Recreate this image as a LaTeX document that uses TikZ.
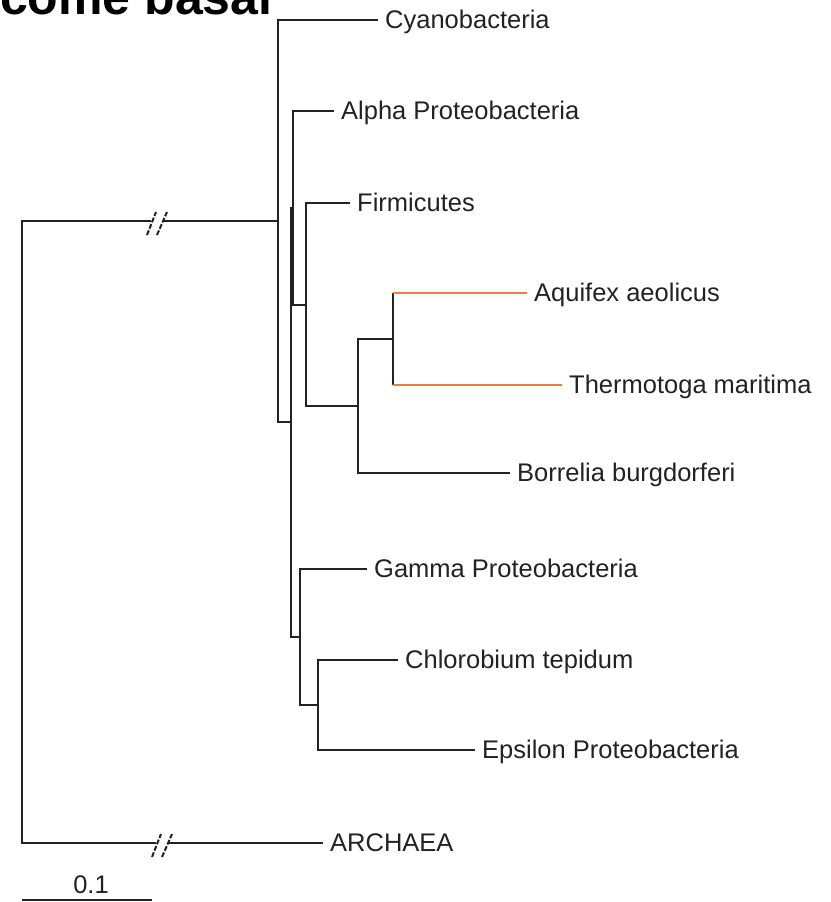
\documentclass[tikz,border=0pt]{standalone}
\usepackage{fontspec}
\setmainfont{Liberation Sans}
\definecolor{hotbr}{RGB}{240,125,60}
\definecolor{treeink}{RGB}{34,34,34}
\begin{document}
\begin{tikzpicture}[x=1pt,y=-1pt,font=\fontsize{25.5}{30}\selectfont,
 branch/.style={draw=treeink,line width=2.2pt},
 hot/.style={draw=hotbr,line width=2.8pt},
 leaf/.style={anchor=west,inner xsep=7pt,inner ysep=0pt,text height=17pt,text depth=0pt,text=treeink},
 brk/.style={draw=treeink,line width=2pt,dash pattern=on 5pt off 1.8pt}]
\clip (0,0) rectangle (830,902);
\node[anchor=base west,inner sep=0pt,font=\fontsize{50}{60}\selectfont\bfseries] (ttl) at (0,14) {come basal};
% inner nodes of the tree
\coordinate (R) at (22,531.5);
\coordinate (A) at (278,221);
\coordinate (B) at (291,422);
\coordinate (C) at (293,208);
\coordinate (D) at (306,305);
\coordinate (E) at (358,406);
\coordinate (G) at (393,339);
\coordinate (F) at (300,637);
\coordinate (H) at (318,705);
% leaves
\foreach \n/\x/\y/\lab in {cy/378/20/Cyanobacteria,al/334/111/Alpha Proteobacteria,
 fi/350/203/Firmicutes,aq/527/293/Aquifex aeolicus,th/562/385/Thermotoga maritima,
 bo/510/473/Borrelia burgdorferi,ga/367/569/Gamma Proteobacteria,
 ch/398/660/Chlorobium tepidum,ep/475/750/Epsilon Proteobacteria,ar/323/843/ARCHAEA}{
 \node[leaf] (\n) at (\x,\y) {\lab};
}
% branches
\foreach \p/\c in {A/cy,A/B,B/C,B/F,C/al,C/D,D/fi,D/E,E/G,E/bo,F/ga,F/H,H/ch,H/ep}{
 \draw[branch] (\p) |- (\c);
}
\draw[branch] (G |- aq) -- (G |- th);
\draw[hot] (G |- aq) -- (aq) (G |- th) -- (th);
% root with broken branches
\coordinate (b1l) at (151,221); \coordinate (b1r) at (164,221);
\coordinate (b2l) at (156,843); \coordinate (b2r) at (169,843);
\draw[branch] (R) |- (b1l) (b1r) -- (A) (R) |- (b2l) (b2r) -- (ar);
\foreach \bx/\by in {157/221,162/843}{
 \draw[brk] (\bx-10,\by+14) -- ++(9,-23);
 \draw[brk] (\bx,\by+14) -- ++(10,-23);
}
% scale bar
\coordinate (s0) at (22,900); \coordinate (s1) at (152,900);
\draw[branch] (s0) -- (s1);
\node[text=treeink] (sc) at (91,885) {0.1};
\end{tikzpicture}
\end{document}
